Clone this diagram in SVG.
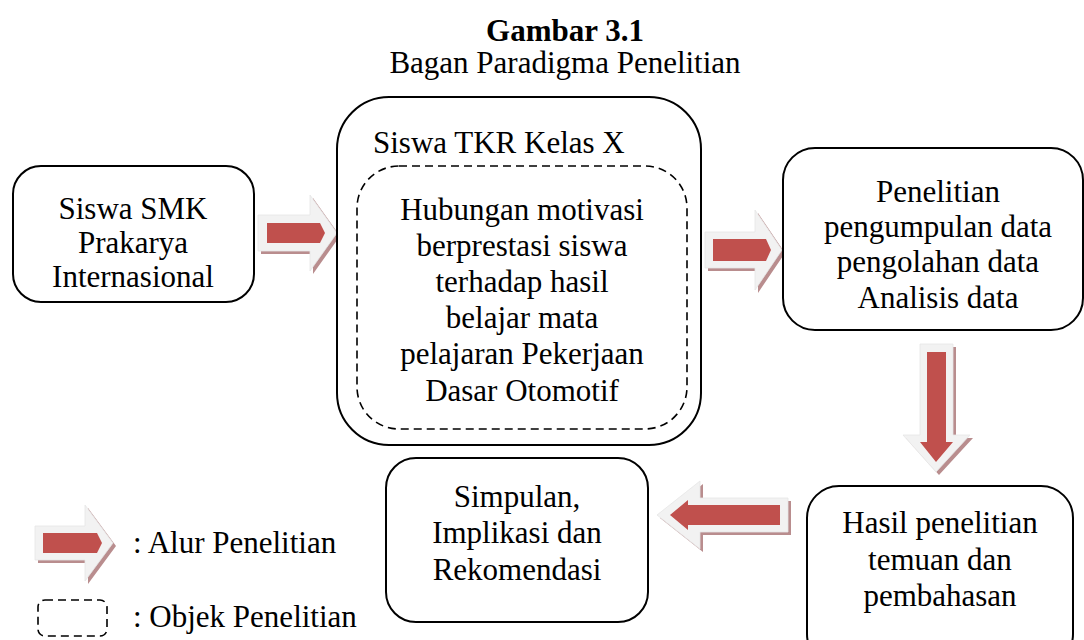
<svg xmlns="http://www.w3.org/2000/svg" width="1084" height="640" viewBox="0 0 1084 640">
<style>
text{font-family:"Liberation Serif","Times New Roman",serif;font-size:31px;fill:#000}
.c{text-anchor:middle}
.box{fill:#fff;stroke:#000;stroke-width:2}
.dash{fill:none;stroke:#000;stroke-width:1.6;stroke-dasharray:8 5}
.lt{fill:#f2f2f2;stroke:#e6e6e6;stroke-width:0.8}
.sh{fill:#b98d8e}
.rd{fill:#c0504d}
</style>
<rect width="1084" height="640" fill="#fff"/>
<g id="title">
<text class="c" x="565" y="41" font-weight="bold">Gambar 3.1</text>
<text class="c" x="565" y="73">Bagan Paradigma Penelitian</text>
</g>
<g id="connectors">
<g id="arrow1">
<path class="sh" d="M261,218 H313 V198 L340,236 L313,274 V254 H261 Z"/>
<path class="lt" d="M258,215 H310 V195 L337,233 L310,271 V251 H258 Z"/>
<path class="rd" d="M267,223 H320 L325,233 L320,243 H267 Z"/>
</g>
<g id="arrow2">
<path class="sh" d="M708,235 H758 V213 L785,253 L758,293 V271 H708 Z"/>
<path class="lt" d="M705,232 H755 V210 L782,250 L755,290 V268 H705 Z"/>
<path class="rd" d="M713,239 H766 L771,250 L766,261 H713 Z"/>
</g>
<g id="arrow3">
<path class="sh" d="M923,347 H956 V438 H973 L939,475 L906,438 H923 Z"/>
<path class="lt" d="M920,344 H953 V435 H970 L936,472 L903,435 H920 Z"/>
<path class="rd" d="M927,352 H946 V442 H953 L936,462 L920,442 H927 Z"/>
</g>
<g id="arrow4">
<path class="sh" d="M660,518 L703,484 V501 H791 V535 H703 V552 Z"/>
<path class="lt" d="M657,515 L700,481 V498 H788 V532 H700 V549 Z"/>
<path class="rd" d="M670,515 L688,500 V505 H780 V525 H688 V530 Z"/>
</g>
</g>
<g id="node-smk">
<rect class="box" x="13" y="166" width="241" height="136" rx="28"/>
<text class="c" x="133" y="219">Siswa SMK</text>
<text class="c" x="133" y="253">Prakarya</text>
<text class="c" x="133" y="287">Internasional</text>
</g>
<g id="node-tkr">
<rect class="box" x="337" y="97" width="364" height="348" rx="52"/>
<text x="373" y="153">Siswa TKR Kelas X</text>
<rect class="dash" x="357" y="166" width="330" height="263" rx="42"/>
<text class="c" x="522" y="220">Hubungan motivasi</text>
<text class="c" x="522" y="256">berprestasi siswa</text>
<text class="c" x="522" y="292">terhadap hasil</text>
<text class="c" x="522" y="328">belajar mata</text>
<text class="c" x="522" y="364">pelajaran Pekerjaan</text>
<text class="c" x="522" y="401">Dasar Otomotif</text>
</g>
<g id="node-penelitian">
<rect class="box" x="783" y="148" width="300" height="182" rx="32"/>
<text class="c" x="938" y="202">Penelitian</text>
<text class="c" x="938" y="237">pengumpulan data</text>
<text class="c" x="938" y="272">pengolahan data</text>
<text class="c" x="938" y="308">Analisis data</text>
</g>
<g id="node-hasil">
<rect class="box" x="807" y="486" width="266" height="180" rx="32"/>
<text class="c" x="940" y="533">Hasil penelitian</text>
<text class="c" x="940" y="570">temuan dan</text>
<text class="c" x="940" y="606">pembahasan</text>
</g>
<g id="node-simpulan">
<rect class="box" x="386" y="458" width="262" height="164" rx="30"/>
<text class="c" x="517" y="507">Simpulan,</text>
<text class="c" x="517" y="543">Implikasi dan</text>
<text class="c" x="517" y="580">Rekomendasi</text>
</g>
<g id="legend">
<path class="sh" d="M38,529 H88 V508 L116,546 L88,584 V563 H38 Z"/>
<path class="lt" d="M35,526 H85 V505 L113,543 L85,581 V560 H35 Z"/>
<path class="rd" d="M43,533 H97 L102,543 L97,553 H43 Z"/>
<text x="133" y="553">: Alur Penelitian</text>
<rect class="dash" x="38" y="600" width="69" height="36" rx="7"/>
<text x="133" y="627">: Objek Penelitian</text>
</g>
</svg>
